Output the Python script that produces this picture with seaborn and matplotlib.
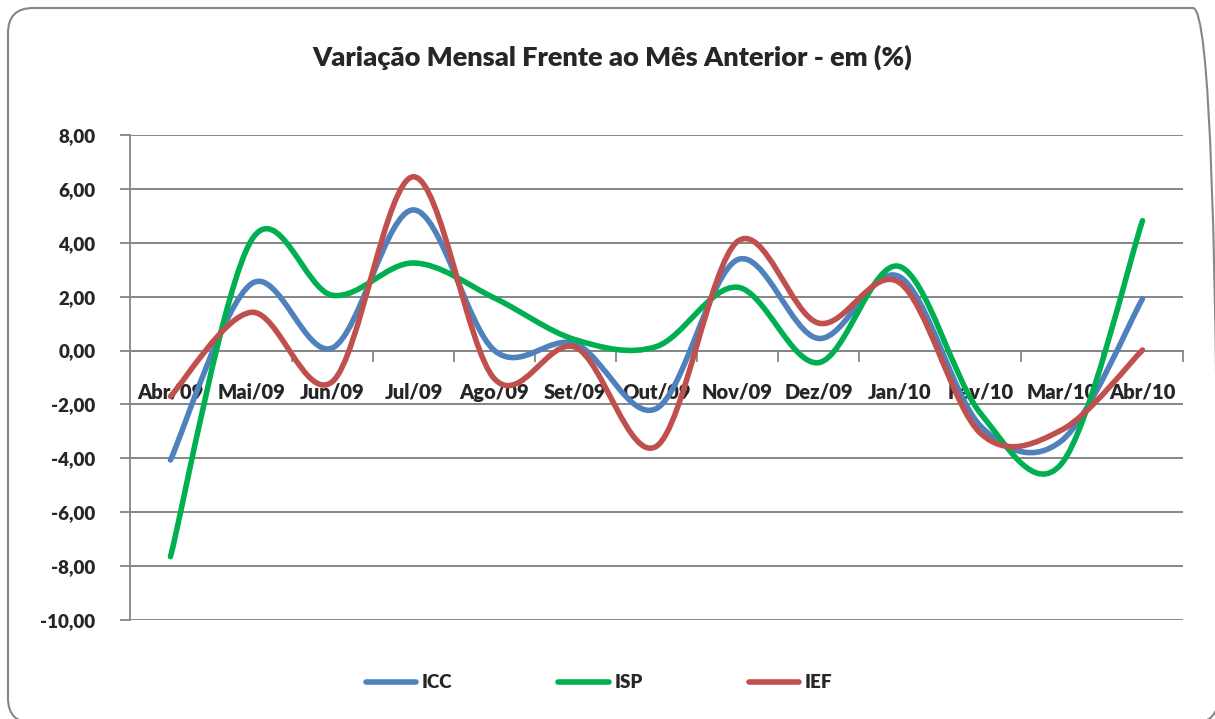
### Variação mensal ICC / ISP / IEF ###

import numpy as np
import pandas as pd
import matplotlib.pyplot as plt
from matplotlib.path import Path
from matplotlib.patches import PathPatch, FancyBboxPatch
from matplotlib.lines import Line2D
from matplotlib.ticker import FuncFormatter, FixedLocator
from matplotlib.transforms import IdentityTransform
import seaborn as sns

# Dados
meses = ['Abr/09', 'Mai/09', 'Jun/09', 'Jul/09', 'Ago/09', 'Set/09', 'Out/09',
         'Nov/09', 'Dez/09', 'Jan/10', 'Fev/10', 'Mar/10', 'Abr/10']
icc = [-4.06, 2.48, 0.10, 5.22, 0.00, 0.25, -2.15, 3.37, 0.45, 2.74, -2.80, -3.35, 1.92]
isp = [-7.65, 4.10, 2.05, 3.25, 1.95, 0.40, 0.15, 2.35, -0.45, 3.12, -2.33, -4.20, 4.82]
ief = [-1.70, 1.42, -1.15, 6.45, -1.05, 0.12, -3.55, 4.05, 1.02, 2.52, -3.07, -2.95, 0.02]
series = ['ICC', 'ISP', 'IEF']
cores = ['#4F81BD', '#00B050', '#C0504D']
yticks = list(range(-10, 9, 2))

df = pd.DataFrame({'Mes': meses * 3,
                   'Valor': icc + isp + ief,
                   'Serie': [s for s in series for _ in meses]})

sns.set_style('white')
plt.rcParams['font.family'] = ['Lato', 'DejaVu Sans']
plt.rcParams['font.weight'] = 'heavy'

W, H = 1215, 719
fig = plt.figure(figsize=(W / 100, H / 100), dpi=100)
ax = fig.add_axes([130 / W, 1 - 620 / H, (1183 - 130) / W, (620 - 135) / H])

sns.lineplot(data=df, x='Mes', y='Valor', hue='Serie', palette=cores,
             linewidth=4, sort=False, legend=False, errorbar=None, ax=ax)


# linha suavizada (estilo Excel) a partir dos pontos desenhados pelo seaborn
def suavizar(xy, k=1 / 6):
    n = len(xy)
    verts = [xy[0]]
    codes = [Path.MOVETO]
    for i in range(n - 1):
        p0, p1 = xy[max(i - 1, 0)], xy[i]
        p2, p3 = xy[i + 1], xy[min(i + 2, n - 1)]
        verts += [p1 + (p2 - p0) * k, p2 - (p3 - p1) * k, p2]
        codes += [Path.CURVE4] * 3
    return Path(verts, codes)


for line in list(ax.lines):
    xy = np.asarray(line.get_xydata(), dtype=float)
    ax.add_patch(PathPatch(suavizar(xy), fill=False, edgecolor=line.get_color(),
                           lw=4, capstyle='round', joinstyle='round', zorder=3))
    line.set_visible(False)

ax.set_xlim(-0.5, len(meses) - 0.5)
ax.set_ylim(-10, 8)
ax.set_xlabel('')
ax.set_ylabel('')
ax.set_axisbelow(True)

cinza = '#868686'
ax.yaxis.set_major_locator(FixedLocator(yticks))
ax.yaxis.set_major_formatter(FuncFormatter(lambda v, p: f'{v:.2f}'.replace('.', ',')))
ax.yaxis.grid(True, color=cinza, lw=1.4)
ax.tick_params(axis='y', which='major', direction='out', length=7, width=1.3,
               color=cinza, pad=18, labelsize=13.5, left=True)

ax.set_xticks(range(len(meses)))
ax.set_xticklabels(meses)
ax.set_xticks(np.arange(-0.5, len(meses), 1), minor=True)
ax.tick_params(axis='x', which='major', length=0, pad=23, labelsize=14.5)
ax.tick_params(axis='x', which='minor', direction='out', length=8, width=1.3,
               color=cinza, bottom=True)

for s in ['top', 'right']:
    ax.spines[s].set_visible(False)
ax.spines['left'].set_color(cinza)
ax.spines['left'].set_linewidth(1.3)
ax.spines['bottom'].set_position(('data', 0))
ax.spines['bottom'].set_color(cinza)
ax.spines['bottom'].set_linewidth(1.4)

fig.text(612 / W, 1 - 57 / H, 'Variação Mensal Frente ao Mês Anterior - em (%)',
         ha='center', va='center', fontsize=19.5, fontweight='heavy')

handles = [Line2D([], [], color=c, lw=4, solid_capstyle='round') for c in cores]
fig.legend(handles, series, loc='center', bbox_to_anchor=(599 / W, 1 - 683 / H),
           ncol=3, frameon=False, handlelength=2.7, handletextpad=0.3,
           columnspacing=5.65, prop={'size': 13.5, 'weight': 'heavy'})

borda = FancyBboxPatch((8, -4), 1210, 715, boxstyle='round,pad=0,rounding_size=25',
                       transform=IdentityTransform(), fill=False, edgecolor=cinza, lw=1.5)
fig.add_artist(borda)

plt.savefig('out.png', dpi=100)
